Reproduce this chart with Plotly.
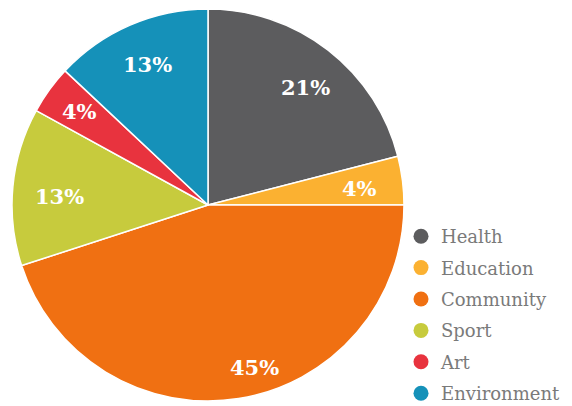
import math
import plotly.graph_objects as go

categories = ["Health", "Education", "Community", "Sport", "Art", "Environment"]
values = [21, 4, 45, 13, 4, 13]
colors = ["#5c5c5e", "#fbb131", "#f07012", "#c7cb3d", "#e8333e", "#1591b9"]
# placement of each percentage label (style): fraction of radius, angular shift in degrees
label_radius = [0.78, 0.78, 0.86, 0.76, 0.81, 0.78]
label_shift = [2, 1, -7, -2, 0, 0]

# the page body adds an 8px offset, so the figure is 8px smaller and shifted
W, H = 564, 398
cx, cy, R = 200, 197, 196  # pie centre/radius in pixels from figure top-left

fig = go.Figure()
fig.add_trace(go.Pie(
    labels=categories, values=values, sort=False, direction="clockwise",
    rotation=0, marker=dict(colors=colors, line=dict(color="white", width=1.5)),
    textinfo="none", showlegend=False, hoverinfo="label+percent",
    domain=dict(x=[max(0, (cx - R) / W), min(1, (cx + R) / W)],
                y=[max(0, (H - cy - R) / H), min(1, (H - cy + R) / H)]),
))

total = sum(values)
cum = 0
for v, f, s in zip(values, label_radius, label_shift):
    mid = (cum + v / 2) / total * 2 * math.pi + math.radians(s)
    cum += v
    px = cx + f * R * math.sin(mid)
    py = cy - f * R * math.cos(mid)
    fig.add_annotation(
        x=px / W, y=1 - py / H, xref="paper", yref="paper",
        text="<b>%d%%</b>" % round(v / total * 100), showarrow=False,
        font=dict(family="DejaVu Serif", size=21, color="white"),
        xanchor="center", yanchor="middle",
    )

for c, col in zip(categories, colors):
    fig.add_trace(go.Scatter(
        x=[None], y=[None], mode="markers", name=c,
        marker=dict(symbol="circle", size=15, color=col),
        legendgroup=c,
    ))

fig.update_layout(
    width=W, height=H, margin=dict(l=0, r=0, t=0, b=0, autoexpand=False),
    paper_bgcolor="white", plot_bgcolor="white",
    xaxis=dict(visible=False), yaxis=dict(visible=False),
    legend=dict(x=393 / W, y=(H - 210) / H, xanchor="left", yanchor="top",
                font=dict(family="DejaVu Serif", size=18, color="#7a7a7a"),
                tracegroupgap=5, itemwidth=30, bgcolor="rgba(0,0,0,0)"),
)
fig.write_html("out.html")
